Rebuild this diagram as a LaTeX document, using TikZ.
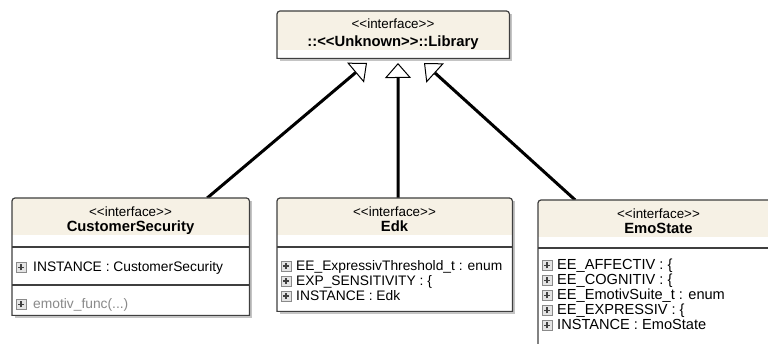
\documentclass[tikz,border=0pt]{standalone}
\usepackage{fontspec}
\setmainfont{Liberation Sans}
\usetikzlibrary{arrows.meta, calc}
\definecolor{umlcream}{HTML}{F6F1E5}
\definecolor{umlline}{HTML}{3F3F3F}
\definecolor{umlshadow}{HTML}{C4C4C4}
\definecolor{umlgrey}{HTML}{8A8A8A}
\definecolor{iconfill}{HTML}{E4E4E4}
\definecolor{icondark}{HTML}{404040}
\tikzset{
	boxarea/.style = {anchor=north west, inner sep=0pt},
	umlborder/.style = {draw=umlline, line width=1.2pt},
	stereo/.style = {anchor=base, inner sep=0pt, font=\fontsize{13.4}{15}\selectfont},
	ititle/.style = {anchor=base, inner sep=0pt, font=\fontsize{14.8}{16}\selectfont\bfseries},
	attr/.style = {anchor=base west, inner sep=0pt, font=\fontsize{13.8}{15}\selectfont},
	attrwide/.style = {attr, font=\fontsize{14.6}{15}\selectfont},
	plusicon/.style = {draw=umlgrey, fill=iconfill, minimum size=10pt, inner sep=0pt,
		path picture={\draw[icondark, line width=1.3pt]
			([xshift=-3pt]path picture bounding box.center) -- ([xshift=3pt]path picture bounding box.center)
			([yshift=-3pt]path picture bounding box.center) -- ([yshift=3pt]path picture bounding box.center);}},
	gen/.style = {line width=3pt, -{Triangle[open, length=15pt, width=26pt, line width=1pt]}},
}
\newcommand\ster[1]{<\kern0pt<#1>\kern0pt>}

\begin{document}
\begin{tikzpicture}[x=1pt, y=-1pt]
	\useasboundingbox (0,0) rectangle (768,344);
	\fill[white] (0,0) rectangle (768,344);

	% class boxes
	\node[boxarea, minimum width=232pt, minimum height=47pt]  (lib) at (277,11) {};
	\node[boxarea, minimum width=237pt, minimum height=117pt] (cs)  at (12,198) {};
	\node[boxarea, minimum width=235pt, minimum height=113pt] (edk) at (277,198) {};
	\node[boxarea, minimum width=241pt, minimum height=160pt] (emo) at (538,200) {};

	% generalisations
	\coordinate (tipA) at (367,63);
	\coordinate (tipB) at (398,63);
	\coordinate (tipC) at (424,63);
	\draw[gen] ([xshift=76.5pt]cs.north) -- (tipA);
	\draw[gen] ([xshift=3.5pt]edk.north) -- (tipB);
	\draw[gen] ([xshift=-83.5pt]emo.north) -- (tipC);

	\foreach \b/\h in {lib/39pt, cs/37pt, edk/37pt, emo/37pt} {
		\fill[umlshadow] ([shift={(3pt,-3pt)}]\b.north west) rectangle ([shift={(3pt,-3pt)}]\b.south east);
		\fill[white] (\b.north west) rectangle (\b.south east);
		\fill[umlcream] ([yshift=-\h]\b.north west) [rounded corners=3pt] -- (\b.north west) -- (\b.north east) [sharp corners] -- ([yshift=-\h]\b.north east) -- cycle;
		\draw[umlborder] (\b.south west) [rounded corners=3pt] -- (\b.north west) -- (\b.north east) [sharp corners] -- (\b.south east) -- cycle;
	}

	% compartments
	\draw[umlborder] ([yshift=-49pt]cs.north west) -- ([yshift=-49pt]cs.north east);
	\draw[umlborder] ([yshift=-87pt]cs.north west) -- ([yshift=-87pt]cs.north east);
	\draw[umlborder] ([yshift=-49pt]edk.north west) -- ([yshift=-49pt]edk.north east);
	\draw[umlborder] ([yshift=-48pt]emo.north west) -- ([yshift=-48pt]emo.north east);

	% headers
	\node[stereo] (lib-st) at (393,29) {\ster{interface}};
	\node[ititle] (lib-name) at (393,47) {::\ster{Unknown}::Library};
	\node[stereo] (cs-st) at (130.5,217) {\ster{interface}};
	\node[ititle] (cs-name) at (130.5,232) {CustomerSecurity};
	\node[stereo] (edk-st) at (394.5,217) {\ster{interface}};
	\node[ititle] (edk-name) at (394.5,232) {Edk};
	\node[stereo] (emo-st) at (658.5,219) {\ster{interface}};
	\node[ititle] (emo-name) at (658.5,234) {EmoState};

	% members
	\node[plusicon] (cs-p1) at (21,267.5) {};
	\node[attr] (cs-a1) at (33,272) {INSTANCE : CustomerSecurity};
	\node[plusicon] (cs-p2) at (21,304.5) {};
	\node[attr, text=umlgrey] (cs-o1) at (33,309) {emotiv\_func(...)};

	\foreach \txt [count=\i] in {EE\_ExpressivThreshold\_t : enum, EXP\_SENSITIVITY : \{, INSTANCE : Edk} {
		\node[plusicon] (edk-p\i) at (286,251+15*\i) {};
		\node[attr] (edk-a\i) at (296,255.5+15*\i) {\txt};
	}
	\foreach \txt [count=\i] in {EE\_AFFECTIV : \{, EE\_COGNITIV : \{, EE\_EmotivSuite\_t : enum, EE\_EXPRESSIV : \{, INSTANCE : EmoState} {
		\node[plusicon] (emo-p\i) at (547,250.5+15*\i) {};
		\node[attrwide] (emo-a\i) at (557,255+15*\i) {\txt};
	}
\end{tikzpicture}
\end{document}
